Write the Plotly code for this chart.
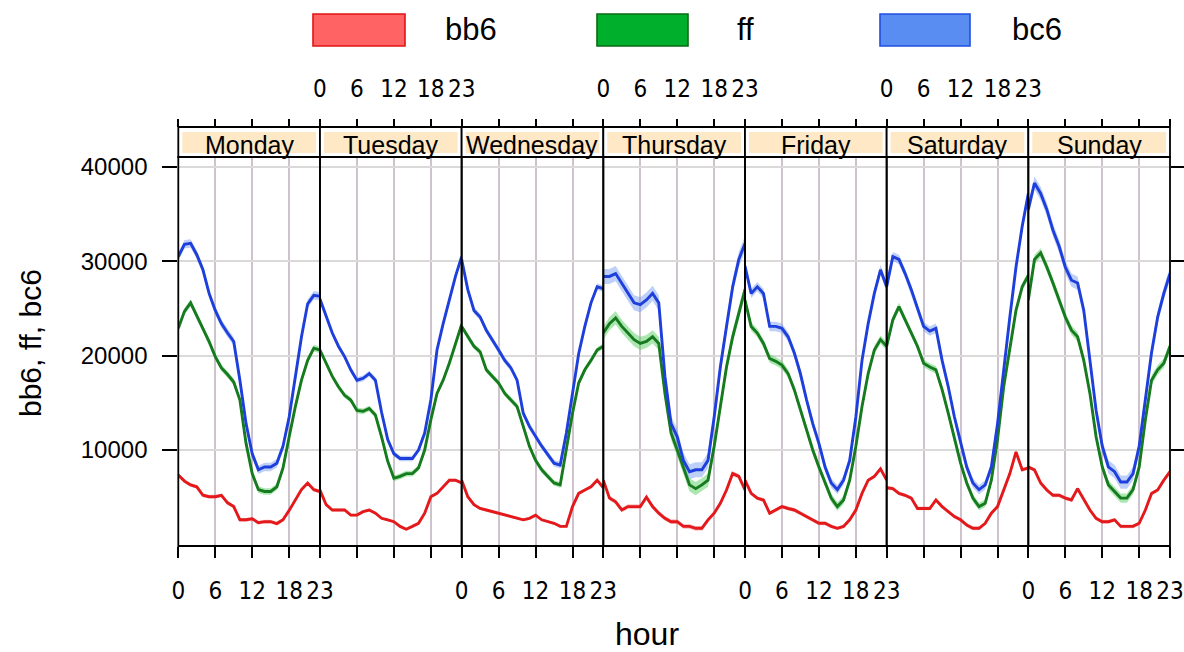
import plotly.graph_objects as go

# ---------------- data ----------------
days = ["Monday", "Tuesday", "Wednesday", "Thursday", "Friday", "Saturday", "Sunday"]
hours = list(range(24))
hour_tickvals = [0, 6, 12, 18, 23]
hour_ticktext = ["0", "6", "12", "18", "23"]
y_tickvals = [10000, 20000, 30000, 40000]
y_ticktext = ["10000", "20000", "30000", "40000"]
series_names = ["bb6", "ff", "bc6"]

bb6 = [
    [7350, 6700, 6300, 6100, 5200, 5050, 5050, 5200, 4400, 4000, 2600, 2600, 2700, 2300, 2400, 2400, 2200, 2600, 3600, 4700, 5800, 6500, 5800, 5600],
    [5760, 4200, 3640, 3640, 3640, 3100, 3100, 3460, 3640, 3300, 2760, 2600, 2400, 1900, 1600, 1900, 2230, 3300, 5050, 5400, 6100, 6800, 6800, 6500],
    [6800, 5050, 4200, 3800, 3640, 3460, 3300, 3100, 2940, 2760, 2600, 2760, 3100, 2600, 2400, 2230, 1900, 1900, 4000, 5400, 5760, 6100, 6800, 6000],
    [6800, 4900, 4500, 3640, 4000, 4000, 4000, 5000, 4000, 3300, 2760, 2400, 2400, 1900, 1900, 1700, 1700, 2600, 3300, 4350, 5760, 7500, 7200, 5760],
    [6800, 5400, 4900, 4700, 3300, 3640, 4000, 3800, 3640, 3300, 2940, 2600, 2230, 2230, 1900, 1700, 1900, 2600, 3640, 5400, 6800, 7200, 8000, 6800],
    [6000, 5900, 5400, 5200, 4900, 3800, 3800, 3800, 4700, 4000, 3460, 2940, 2600, 2050, 1700, 1700, 2230, 3300, 4000, 5760, 7500, 9800, 7900, 8100],
    [8200, 7900, 6500, 5760, 5200, 5200, 4900, 4700, 5900, 4700, 3640, 2760, 2400, 2400, 2600, 1900, 1900, 1900, 2230, 3640, 5400, 5760, 6800, 7700],
]
ff = [
    [22900, 24700, 25600, 24200, 22900, 21500, 19900, 18700, 18000, 17200, 15300, 10700, 7500, 5800, 5600, 5600, 6100, 8100, 11400, 14600, 17400, 19500, 20800, 20600],
    [20600, 19200, 17800, 16700, 15800, 15300, 14200, 14100, 14400, 13700, 11400, 8800, 7000, 7200, 7500, 7500, 8100, 10000, 13200, 16000, 17400, 19200, 21300, 23300],
    [23100, 22000, 21000, 20400, 18500, 17800, 17100, 16000, 15300, 14600, 12500, 10400, 8900, 7900, 7200, 6500, 6300, 10000, 13900, 17100, 18500, 19500, 20600, 21000],
    [22400, 23400, 24000, 23100, 22400, 21700, 21300, 21500, 22000, 21300, 16000, 11800, 10000, 8200, 6300, 5900, 6300, 6800, 10400, 14600, 18800, 22000, 24500, 27000],
    [25900, 23100, 22400, 21300, 19700, 19400, 19000, 18100, 16400, 14200, 12100, 10000, 8200, 6500, 4900, 4000, 4700, 6800, 10400, 14600, 18100, 20600, 21700, 21000],
    [21000, 23800, 25200, 23800, 22400, 21000, 19200, 18800, 18500, 16400, 13900, 11100, 8600, 6500, 4900, 4000, 4350, 6800, 11100, 16700, 21000, 24800, 27300, 28500],
    [25900, 30200, 30900, 29400, 27700, 25900, 24100, 22700, 22000, 19500, 16000, 11400, 8200, 6300, 5600, 4900, 4900, 5800, 8200, 13200, 17400, 18500, 19200, 21000],
]
bc6 = [
    [30500, 31800, 31900, 30700, 29100, 26600, 24800, 23400, 22400, 21500, 17400, 12800, 9600, 7900, 8200, 8200, 8600, 10400, 13500, 17800, 22000, 25500, 26400, 26300],
    [26000, 24100, 22400, 21000, 19900, 18500, 17400, 17600, 18100, 17400, 14000, 11100, 9600, 9100, 9100, 9100, 10000, 11800, 15300, 20600, 23400, 25900, 28400, 30500],
    [30200, 27000, 24800, 24100, 22700, 21700, 20600, 19500, 18700, 17400, 13900, 12500, 11400, 10400, 9500, 8600, 8400, 11800, 16000, 20200, 23100, 25600, 27300, 27100],
    [28400, 28400, 28700, 27700, 26600, 25600, 25400, 25900, 26600, 25600, 17800, 12800, 11400, 8900, 7700, 7900, 7900, 8900, 13500, 18800, 23100, 27300, 30200, 31900],
    [29500, 26600, 27300, 26600, 23100, 23100, 22900, 22000, 20300, 18100, 15300, 12800, 10700, 8200, 6500, 5800, 6800, 8900, 13500, 19500, 23400, 26600, 29100, 27300],
    [27300, 30500, 30200, 28700, 27000, 25000, 23100, 22600, 22900, 19500, 16700, 13500, 10700, 8200, 6500, 5800, 6300, 8200, 12800, 18800, 24100, 29400, 33700, 37200],
    [35500, 38300, 37200, 35500, 33300, 31600, 29400, 28000, 27700, 24800, 19500, 14200, 10400, 8200, 7700, 6600, 6600, 7500, 10400, 15300, 20300, 24100, 26600, 28700],
]
# half-width of the confidence band, per day
bb6_ci = [200, 150, 150, 250, 200, 200, 200]
ff_ci = [350, 300, 300, 700, 450, 400, 500]
bc6_ci = [450, 300, 350, 800, 500, 500, 700]

# ---------------- styling ----------------
W, H = 1184, 652
line_colors = {"bb6": "#E3191C", "ff": "#167A1E", "bc6": "#1E3FDC"}
band_colors = {"bb6": "rgba(245,120,120,0.45)", "ff": "rgba(70,200,80,0.45)", "bc6": "rgba(110,150,240,0.45)"}
key_fill = {"bb6": "#FF6363", "ff": "#00B02C", "bc6": "#5A8DF2"}
key_line = {"bb6": "#E01515", "ff": "#0A6A14", "bc6": "#1F4FE0"}
FONT = "Liberation Sans, Arial, sans-serif"
NARROW = "Liberation Sans Narrow, DejaVu Sans Condensed, Arial Narrow, Liberation Sans, sans-serif"

def px(x):
    return x / W

def py(y):
    return 1 - y / H

panel_left, panel_right = 178.3, 1170.0
panel_w = (panel_right - panel_left) / 7
strip_top, plot_top, plot_bottom = 127.0, 157.0, 546.0
y_range = [-177, 41060]

data = {"bb6": (bb6, bb6_ci), "ff": (ff, ff_ci), "bc6": (bc6, bc6_ci)}

fig = go.Figure()
layout = {}
shapes = []
annotations = []

for k, day in enumerate(days):
    xa = "x" if k == 0 else f"x{k + 1}"
    # confidence bands
    for name in series_names:
        vals, ci = data[name]
        upper = [v + ci[k] for v in vals[k]]
        lower = [v - ci[k] for v in vals[k]]
        fig.add_trace(go.Scatter(
            x=hours + hours[::-1], y=upper + lower[::-1], xaxis=xa, yaxis="y",
            fill="toself", fillcolor=band_colors[name], line=dict(width=0),
            mode="lines", hoverinfo="skip", showlegend=False))
    # mean lines
    for name in series_names:
        vals, ci = data[name]
        fig.add_trace(go.Scatter(
            x=hours, y=vals[k], xaxis=xa, yaxis="y", mode="lines",
            line=dict(color=line_colors[name], width=2.9), name=name, showlegend=False))

    x0 = panel_left + k * panel_w
    x1 = x0 + panel_w
    axkey = "xaxis" if k == 0 else f"xaxis{k + 1}"
    layout[axkey] = dict(
        domain=[px(x0), px(x1)], range=[0, 23], anchor="y", automargin=False,
        tickmode="array", tickvals=hour_tickvals, ticktext=hour_ticktext,
        ticks="outside", ticklen=11, tickwidth=1.7, tickcolor="black",
        showticklabels=(k % 2 == 0), ticklabelstandoff=12,
        tickfont=dict(family=NARROW, size=24, color="black"),
        showgrid=True, gridcolor="#CDC3CD", gridwidth=1.6,
        zeroline=False, showline=False, fixedrange=True)
    # top axis (above the strip)
    top_id = 8 + k
    layout[f"xaxis{top_id}"] = dict(
        overlaying=xa, anchor="free", position=py(strip_top), side="top", automargin=False,
        range=[0, 23], tickmode="array", tickvals=hour_tickvals, ticktext=hour_ticktext,
        ticks="outside", ticklen=8, tickwidth=1.7, tickcolor="black",
        showticklabels=(k % 2 == 1), ticklabelstandoff=12,
        tickfont=dict(family=NARROW, size=24, color="black"),
        showgrid=False, zeroline=False, showline=False, fixedrange=True)
    fig.add_trace(go.Scatter(x=[0], y=[None], xaxis=f"x{top_id}", yaxis="y",
                             mode="lines", hoverinfo="skip", showlegend=False))

    # strip box
    shapes.append(dict(type="rect", xref="paper", yref="paper",
                       x0=px(x0), x1=px(x1), y0=py(plot_top), y1=py(strip_top),
                       fillcolor="white", line=dict(color="black", width=1.8), layer="below"))
    shapes.append(dict(type="rect", xref="paper", yref="paper",
                       x0=px(x0 + 4), x1=px(x1 - 4), y0=py(153), y1=py(132),
                       fillcolor="#FFE8C6", line=dict(width=0), layer="below"))
    annotations.append(dict(text=day, xref="paper", yref="paper", x=px((x0 + x1) / 2),
                            y=py(145), xanchor="center", yanchor="middle", showarrow=False,
                            font=dict(family=FONT, size=25, color="black")))
    # panel border
    shapes.append(dict(type="rect", xref="paper", yref="paper",
                       x0=px(x0), x1=px(x1), y0=py(plot_bottom), y1=py(plot_top),
                       line=dict(color="black", width=1.8), layer="above"))

layout["yaxis"] = dict(
    domain=[py(plot_bottom), py(plot_top)], range=y_range, anchor="x", automargin=False,
    tickmode="array", tickvals=y_tickvals, ticktext=y_ticktext,
    ticks="outside", ticklen=15, tickwidth=1.7, tickcolor="black",
    ticklabelstandoff=10, tickfont=dict(family=FONT, size=24, color="black"),
    showgrid=True, gridcolor="#DADADA", gridwidth=1.6, zeroline=False, showline=False,
    fixedrange=True)
layout["yaxis2"] = dict(
    overlaying="y", side="right", anchor="x7", range=y_range, automargin=False,
    tickmode="array", tickvals=y_tickvals, ticks="outside", ticklen=15, tickwidth=1.7,
    tickcolor="black", showticklabels=False, showgrid=False, zeroline=False,
    showline=False, fixedrange=True)
fig.add_trace(go.Scatter(x=[0], y=[None], xaxis="x7", yaxis="y2", mode="lines",
                         hoverinfo="skip", showlegend=False))

# legend (keys drawn as boxes)
key_pos = {"bb6": (313, 405, 443), "ff": (597, 688, 735), "bc6": (880, 970, 1010)}
for name in series_names:
    a, b, t = key_pos[name]
    shapes.append(dict(type="rect", xref="paper", yref="paper", x0=px(a), x1=px(b),
                       y0=py(46), y1=py(14), fillcolor=key_fill[name],
                       line=dict(color=key_line[name], width=1.6)))
    annotations.append(dict(text=name, xref="paper", yref="paper", x=px(t), y=py(30),
                            xanchor="left", yanchor="middle", showarrow=False,
                            font=dict(family=FONT, size=31, color="black")))

# axis titles
annotations.append(dict(text="hour", xref="paper", yref="paper", x=px(647), y=py(634),
                        xanchor="center", yanchor="middle", showarrow=False,
                        font=dict(family=FONT, size=32, color="black")))
annotations.append(dict(text="bb6, ff, bc6", xref="paper", yref="paper", x=px(30), y=py(343),
                        xanchor="center", yanchor="middle", showarrow=False, textangle=-90,
                        font=dict(family=FONT, size=30, color="black")))

fig.update_layout(
    width=W, height=H, margin=dict(l=0, r=0, t=0, b=0, autoexpand=False),
    paper_bgcolor="white", plot_bgcolor="white", showlegend=False,
    shapes=shapes, annotations=annotations, **layout)

fig.write_html("out.html", config={"displayModeBar": False},
               post_script="document.body.style.margin='0px';document.body.style.padding='0px';")
